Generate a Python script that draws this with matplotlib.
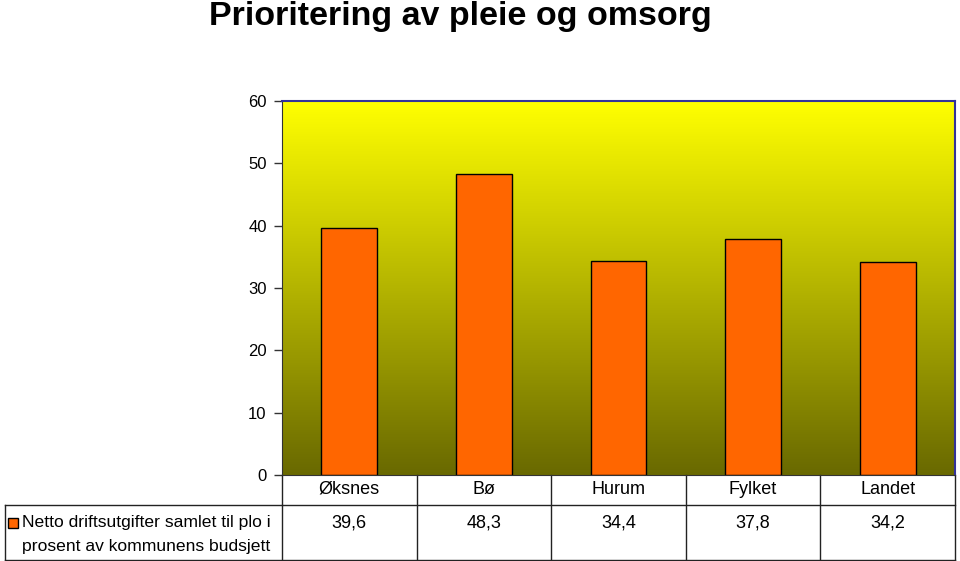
import numpy as np
import matplotlib.pyplot as plt
import matplotlib.transforms as mtransforms
from matplotlib.lines import Line2D
from matplotlib.patches import Rectangle

plt.rcParams['font.family'] = ['Liberation Sans', 'DejaVu Sans']

kategorier = ['Øksnes', 'Bø', 'Hurum', 'Fylket', 'Landet']
verdier = [39.6, 48.3, 34.4, 37.8, 34.2]
verdi_tekst = ['39,6', '48,3', '34,4', '37,8', '34,2']
serie = ['Netto driftsutgifter samlet til plo i', 'prosent av kommunens budsjett']
tittel = 'Prioritering av pleie og omsorg'
yticks = [0, 10, 20, 30, 40, 50, 60]

W, H = 960, 561
fig = plt.figure(figsize=(W / 100, H / 100), dpi=100)

def fx(px):
    return px / W

def fy(py):
    return 1 - py / H

# plot area in pixels
L, R, T, B = 282, 955, 101, 475
ax = fig.add_axes([fx(L), fy(B), fx(R - L), (B - T) / H])

x = np.arange(len(kategorier))
ax.set_xlim(-0.5, len(kategorier) - 0.5)
ax.set_ylim(0, 60)

# gradient background, yellow at top to olive at bottom
g = np.linspace(1, 0, 256)[:, None]
top = np.array([255, 255, 0]) / 255
bot = np.array([105, 105, 0]) / 255
img = (bot + (top - bot) * g[..., None]) * np.ones((1, 2, 1))
ax.imshow(img, extent=(-0.5, len(kategorier) - 0.5, 0, 60), aspect='auto', zorder=0)

ax.bar(x, verdier, width=0.415, color='#FF6600', edgecolor='black', linewidth=1, zorder=2)

ax.set_yticks(yticks)
ax.set_xticks([])
ax.tick_params(axis='y', direction='out', length=6, width=1, color='#333333',
               labelsize=12, pad=5)
for s in ['top', 'right']:
    ax.spines[s].set_color('#333399')
    ax.spines[s].set_linewidth(1.5)
ax.spines['left'].set_color('#333333')
ax.spines['bottom'].set_color('#333333')

# data table below the axis
trans = mtransforms.blended_transform_factory(ax.transData, fig.transFigure)
lc = '#222222'
lw = 1
fig.add_artist(Line2D([fx(L), fx(R)], [fy(505), fy(505)], color=lc, lw=lw))
fig.add_artist(Line2D([fx(5), fx(L)], [fy(505), fy(505)], color=lc, lw=lw))
fig.add_artist(Line2D([fx(5), fx(R)], [fy(560), fy(560)], color=lc, lw=lw))
fig.add_artist(Line2D([fx(5), fx(5)], [fy(505), fy(560)], color=lc, lw=lw))
for i in range(len(kategorier) + 1):
    xi = i - 0.5
    ax.add_artist(Line2D([xi, xi], [fy(B), fy(560)], color=lc, lw=lw,
                         transform=trans, clip_on=False))

for i, (k, v) in enumerate(zip(kategorier, verdi_tekst)):
    ax.text(i, fy(489), k, transform=trans, ha='center', va='center', fontsize=13)
    ax.text(i, fy(523), v, transform=trans, ha='center', va='center', fontsize=13)

fig.add_artist(Rectangle((fx(8), fy(528)), fx(10), 10 / H, facecolor='#FF6600',
                         edgecolor='black', lw=1, transform=fig.transFigure))
fig.text(fx(22), fy(523), serie[0], ha='left', va='center', fontsize=12.6)
fig.text(fx(22), fy(546), serie[1], ha='left', va='center', fontsize=12.6)

fig.text(fx(460), fy(17), tittel, ha='center', va='center', fontsize=24.5, fontweight='bold')

fig.savefig('out.png', dpi=100)
